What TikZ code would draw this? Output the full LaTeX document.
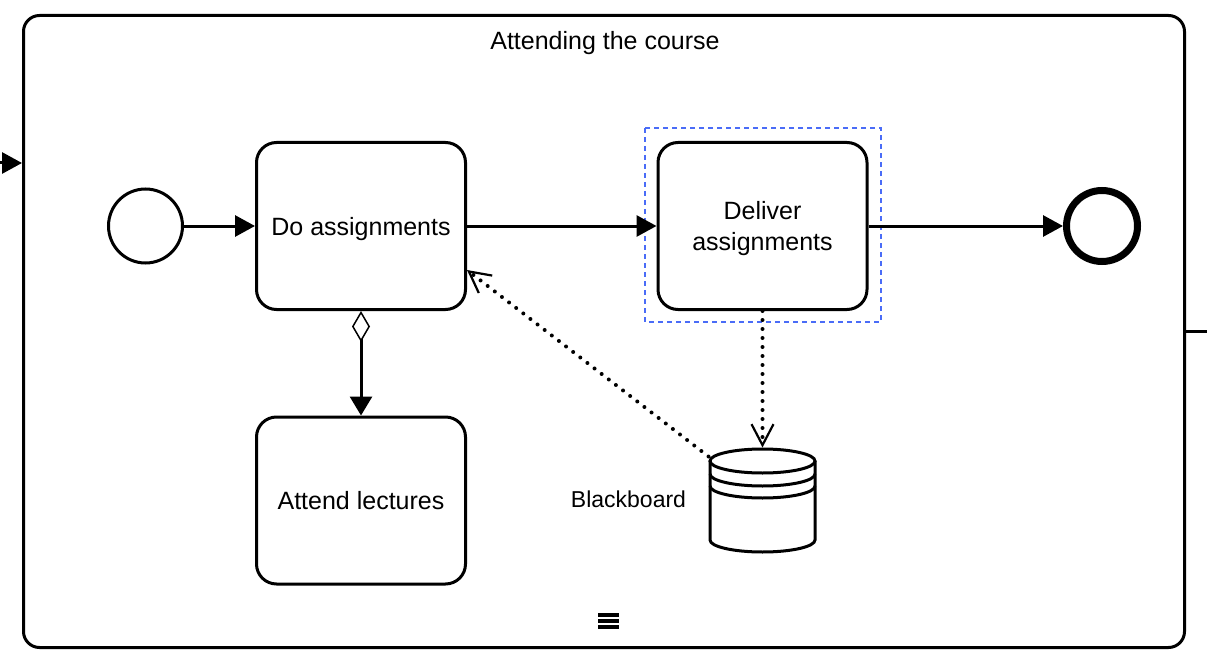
\documentclass[tikz,border=0pt]{standalone}
\usepackage{fontspec}
\setmainfont{Liberation Sans}
\usetikzlibrary{arrows.meta}
\definecolor{selblue}{HTML}{4A6CF7}

\begin{document}
\begin{tikzpicture}[x=1pt,y=-1pt,line width=3pt,
      font=\fontsize{25}{31}\selectfont,
      flow/.style={-{Triangle[length=20pt,width=21pt]}},
      assoc/.style={{Diamond[fill=white,length=31pt,width=18pt,line width=1.5pt]}-{Triangle[length=19pt,width=22pt]}},
      datalink/.style={line width=4pt,line cap=round,dash pattern=on 0pt off 9pt,
        -{Straight Barb[length=21pt,width=22pt,line width=2.2pt]}}]

      \useasboundingbox (0,0) rectangle (1207,671);

      \node[draw,rounded corners=16pt,minimum width=1161pt,minimum height=632pt,inner sep=0pt] (pool) at (604,331.5) {};
      \node[text depth=0pt] (title) at (605,40) {Attending the course};

      \begin{scope}[every node/.style={draw,rounded corners=20pt,minimum width=209pt,minimum height=167pt,inner sep=0pt,align=center,text depth=0pt}]
        \node (do)       at (361,226)   {Do assignments};
        \node (deliver)  at (762.5,226) {Deliver\\assignments};
        \node (lectures) at (361,500.5) {Attend lectures};
      \end{scope}

      \begin{scope}[every node/.style={circle,draw,inner sep=0pt}]
        \node[minimum size=74pt] (start) at (145.5,226) {};
        \node[minimum size=71pt,line width=7pt] (end) at (1102,226) {};
      \end{scope}

      \node[minimum width=105pt,minimum height=104pt,inner sep=0pt] (db) at (762.5,501) {};
      \node[font=\fontsize{23}{28}\selectfont] (dblabel) at (628.5,499) {Blackboard};
      \draw (762.5,461) ellipse [x radius=52.5pt,y radius=12pt];
      \draw (710,461) -- (710,540) arc [start angle=180,end angle=360,x radius=52.5pt,y radius=12pt] -- (815,461);
      \draw (710,474) arc [start angle=180,end angle=360,x radius=52.5pt,y radius=12pt];
      \draw (710,486) arc [start angle=180,end angle=360,x radius=52.5pt,y radius=12pt];

      \draw[selblue,line width=1.5pt,dash pattern=on 5pt off 4pt] (645,128) rectangle (881,322);

      \fill (598,613) rectangle (619,616.5);
      \fill (598,619) rectangle (619,622.5);
      \fill (598,625) rectangle (619,628.5);

      \coordinate (in)  at (0,163);
      \coordinate (out) at (1207,331);

      \begin{scope}[every edge/.style={draw}]
        \path (in) edge[flow] (in -| pool.west);
        \path (pool.east |- out) edge (out);
        \path (start) edge[flow] (do);
        \path (do) edge[flow] (deliver);
        \path (deliver) edge[flow] (end);
        \path (do.south) edge[assoc] (lectures.north);
        \path (deliver.south) edge[datalink] (db.north);
        \path ([yshift=-9pt]db.north west) edge[datalink] ([yshift=-44pt]do.east);
      \end{scope}

    \end{tikzpicture}
\end{document}
